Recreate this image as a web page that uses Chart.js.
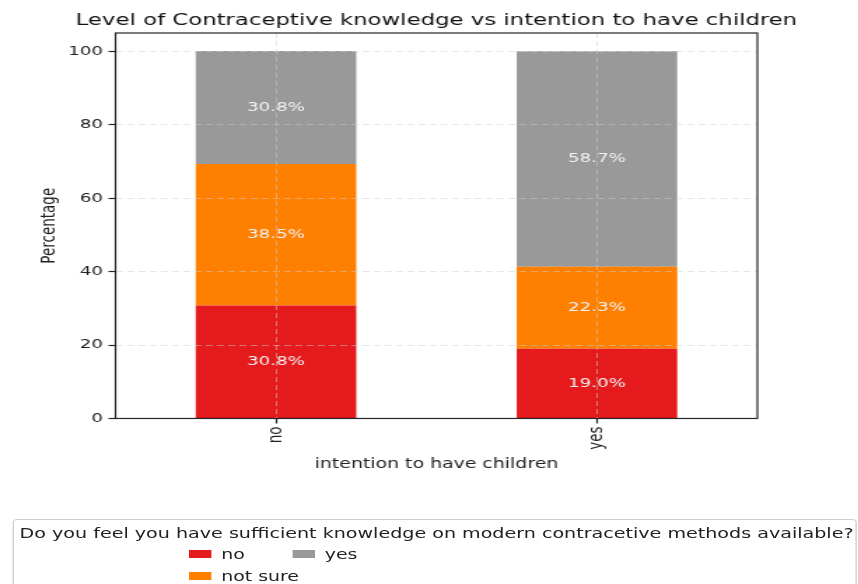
<!DOCTYPE html>
<html>
<head>
<meta charset="utf-8">
<script src="https://cdn.jsdelivr.net/npm/chart.js@4.4.1/dist/chart.umd.min.js"></script>
<style>
  html, body { margin: 0; padding: 0; background: #fff; overflow: hidden; }
  /* the reference is stretched sideways, so draw narrow and widen it */
  #stage { position: absolute; left: 0; top: 0; width: 613px; height: 584px;
           transform: scaleX(1.4); transform-origin: 0 0;
           font-family: "DejaVu Sans", sans-serif; color: #222; }
  #wrap { position: absolute; left: 0; top: 0; width: 613px; height: 480px; }
  #legend { position: absolute; left: 9px; top: 519px; width: 603px; height: 72px;
            border: 1px solid #d0d0d0; border-radius: 3px; box-sizing: border-box; }
  #legend .ttl { position: absolute; left: 4px; top: 5px; font-size: 13.65px; white-space: nowrap; }
  #legend .sw { position: absolute; width: 16.5px; height: 8px; }
  #legend .lb { position: absolute; font-size: 13.5px; white-space: nowrap; line-height: 16px; }
</style>
</head>
<body>
<div id="stage">
  <div id="wrap"><canvas id="chart"></canvas></div>
  <div id="legend"></div>
</div>
<script>
// データ
const categories = ['no', 'yes'];
const seriesNames = ['no', 'not sure', 'yes'];
const noValues = [30.8, 19.0];
const notSureValues = [38.5, 22.3];
const yesValues = [30.8, 58.7];
const seriesColors = ['#e41a1c', '#ff7f00', '#999999'];
const yTicks = [0, 20, 40, 60, 80, 100];

const chartTitle = 'Level of Contraceptive knowledge vs intention to have children';
const xTitle = 'intention to have children';
const yTitle = 'Percentage';
const legendTitle = 'Do you feel you have sufficient knowledge on modern contracetive methods available?';

const seriesValues = [noValues, notSureValues, yesValues];

// 棒の中に%を書く
const barLabels = {
    id: 'barLabels',
    afterDatasetsDraw(chart) {
        const ctx = chart.ctx;
        ctx.save();
        ctx.font = '13px "DejaVu Sans"';
        ctx.fillStyle = '#f2f2f2';
        ctx.textAlign = 'center';
        ctx.textBaseline = 'middle';
        chart.data.datasets.forEach((ds, i) => {
            chart.getDatasetMeta(i).data.forEach((bar, j) => {
                const yMid = (bar.y + bar.base) / 2;
                ctx.fillText(ds.data[j].toFixed(1) + '%', bar.x, yMid);
            });
        });
        ctx.restore();
    }
};

// 枠線とタイトル (タイトルはプロット領域の中央に)
const frameBox = {
    id: 'frameBox',
    afterDraw(chart) {
        const a = chart.chartArea;
        const ctx = chart.ctx;
        ctx.save();
        ctx.strokeStyle = '#262626';
        ctx.lineWidth = 1.2;
        ctx.strokeRect(a.left, a.top, a.right - a.left, a.bottom - a.top);
        ctx.font = '16.3px "DejaVu Sans"';
        ctx.fillStyle = '#111';
        ctx.textAlign = 'center';
        ctx.textBaseline = 'alphabetic';
        ctx.fillText(chartTitle, (a.left + a.right) / 2, 25);
        ctx.restore();
    }
};

const gridOpts = {
    color: 'rgba(205,205,205,0.5)',
    z: 1,
    offset: false,
    tickColor: '#262626',
    tickLength: 5,
    tickWidth: 1.2
};

new Chart(document.getElementById('chart'), {
    type: 'bar',
    data: {
        labels: categories,
        datasets: seriesNames.map((name, i) => ({
            label: name,
            data: seriesValues[i],
            backgroundColor: seriesColors[i],
            borderWidth: 0,
            barPercentage: 0.5,
            categoryPercentage: 1.0
        }))
    },
    options: {
        responsive: true,
        maintainAspectRatio: false,
        animation: false,
        layout: { padding: { left: 27.5, right: 72, top: 33, bottom: 7 } },
        plugins: {
            legend: { display: false },
            tooltip: { enabled: false },
            title: { display: false }
        },
        scales: {
            x: {
                stacked: true,
                offset: true,
                grid: gridOpts,
                border: { display: false, dash: [5, 3] },
                ticks: {
                    color: '#222',
                    font: { family: 'DejaVu Sans', size: 13.5 },
                    minRotation: 90,
                    maxRotation: 90,
                    padding: 3
                },
                title: {
                    display: true,
                    text: xTitle,
                    color: '#222',
                    font: { family: 'DejaVu Sans', size: 13.5 },
                    padding: { top: 4, bottom: 0 }
                }
            },
            y: {
                stacked: true,
                min: 0,
                max: 105,
                grid: gridOpts,
                border: { display: false, dash: [5, 3] },
                afterBuildTicks: axis => {
                    axis.ticks = yTicks.map(v => ({ value: v }));
                },
                ticks: {
                    color: '#222',
                    font: { family: 'DejaVu Sans', size: 13 },
                    padding: 4
                },
                title: {
                    display: true,
                    text: yTitle,
                    color: '#222',
                    font: { family: 'DejaVu Sans', size: 13.5 },
                    padding: { top: 0, bottom: 1 }
                }
            }
        }
    },
    plugins: [barLabels, frameBox]
});

// 凡例 (2列, 列ごとに並べる)
const legendEl = document.getElementById('legend');
const ttl = document.createElement('div');
ttl.className = 'ttl';
ttl.textContent = legendTitle;
legendEl.appendChild(ttl);
const colX = [124.5, 198.5];
const rowY = [30, 52];
seriesNames.forEach((name, i) => {
    const col = Math.floor(i / 2), row = i % 2;
    const sw = document.createElement('div');
    sw.className = 'sw';
    sw.style.left = colX[col] + 'px';
    sw.style.top = rowY[row] + 'px';
    sw.style.background = seriesColors[i];
    legendEl.appendChild(sw);
    const lb = document.createElement('div');
    lb.className = 'lb';
    lb.style.left = (colX[col] + 23.5) + 'px';
    lb.style.top = (rowY[row] - 4) + 'px';
    lb.textContent = name;
    legendEl.appendChild(lb);
});
</script>
</body>
</html>
